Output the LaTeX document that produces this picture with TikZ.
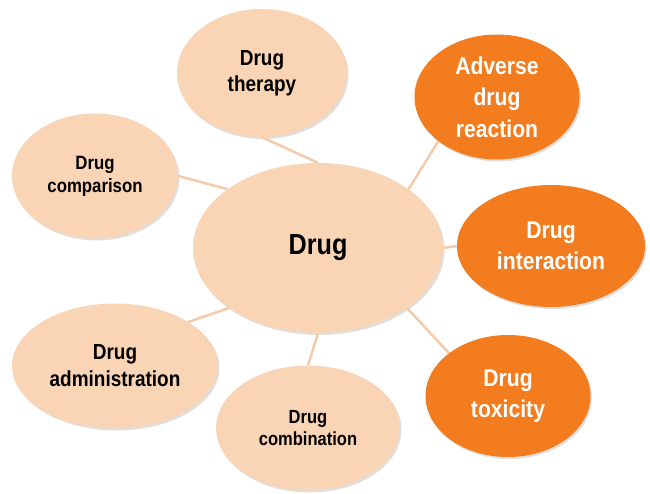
\documentclass[tikz,border=0pt]{standalone}
\usepackage{fontspec}
\setmainfont{Liberation Sans}[FakeStretch=0.87]
\usetikzlibrary{shapes.geometric,shadows}

\definecolor{peach}{RGB}{250,213,181}
\definecolor{drugorange}{RGB}{243,124,30}
\definecolor{linkpeach}{RGB}{245,202,168}

\begin{document}
\begin{tikzpicture}[x=1pt, y=-1pt,
    bubble/.style={ellipse, fill=peach, inner sep=0pt, align=center,
      drop shadow={shadow xshift=1.5pt, shadow yshift=-2pt, opacity=.25}},
    hot/.style={bubble, fill=drugorange, text=white,
      font=\bfseries\fontsize{24.3}{31.5}\selectfont},
    link/.style={draw=linkpeach, line width=2.5pt}]
    \useasboundingbox (0,0) rectangle (650,493);

    \node (D) [bubble, minimum width=250pt, minimum height=170pt,
      font=\bfseries\fontsize{29}{30}\selectfont] at (318,248) {Drug};

    \node (T) [bubble, minimum width=170pt, minimum height=128pt,
      font=\bfseries\fontsize{21.8}{26}\selectfont] at (262,73) {Drug\\therapy};
    \node (C) [bubble, minimum width=166pt, minimum height=125pt,
      font=\bfseries\fontsize{19.3}{23}\selectfont] at (95,176) {Drug\\comparison};
    \node (A) [bubble, minimum width=206pt, minimum height=125pt,
      font=\bfseries\fontsize{21.8}{27}\selectfont] at (115,366) {Drug\\administration};
    \node (B) [bubble, minimum width=184pt, minimum height=125pt,
      font=\bfseries\fontsize{19}{22}\selectfont] at (308,428) {Drug\\combination};

    \node (R) [hot, minimum width=165pt, minimum height=125pt] at (497,97) {Adverse\\drug\\reaction};
    \node (I) [hot, minimum width=188pt, minimum height=122pt] at (551,246) {Drug\\interaction};
    \node (X) [hot, minimum width=165pt, minimum height=122pt] at (508,396) {Drug\\toxicity};

    \draw[link] (T.south) -- (D.north);
    \draw[link] (C.east) -- (D.147);
    \draw[link] (R.217) -- (D.33);
    \draw[link] (D.east) -- (I.west);
    \draw[link] (D.326) -- (X.144);
    \draw[link] (D.south) -- (B.north);
    \draw[link] (A.31) -- (D.214);
\end{tikzpicture}
\end{document}
